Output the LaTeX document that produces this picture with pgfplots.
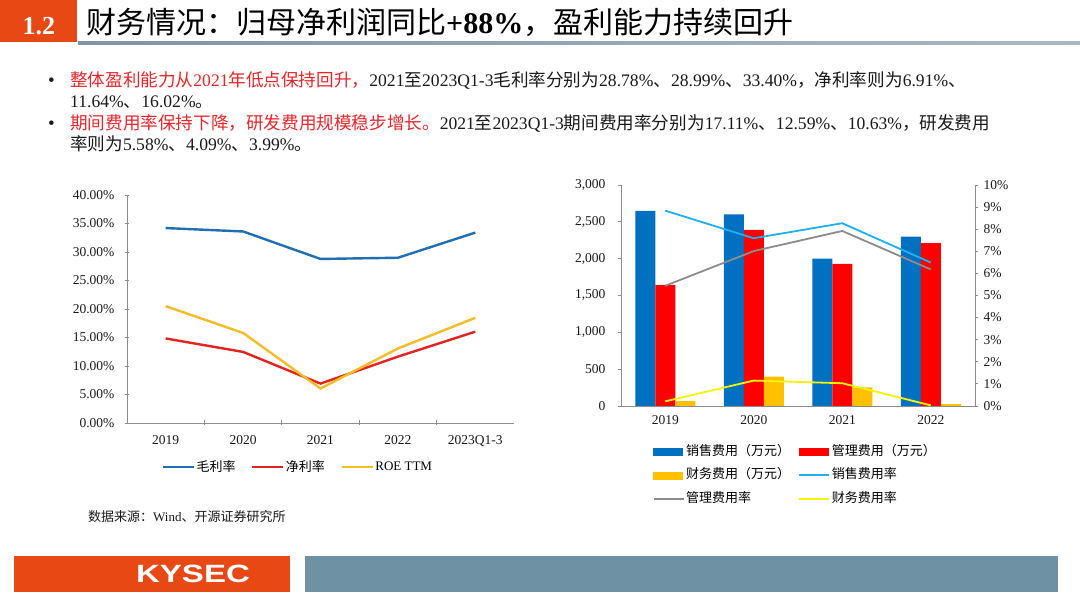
\documentclass[border=0pt]{standalone}
\usepackage{fontspec}
\setmainfont{Liberation Serif}
\newfontfamily\cjk{Noto Sans CJK SC}
\newfontfamily\sanslogo{Liberation Sans}
\usepackage{graphicx}
\usepackage{pgfplots}
\pgfplotsset{compat=1.18}
\definecolor{kyorange}{HTML}{E84814}
\definecolor{kygray}{HTML}{6E92A4}
\definecolor{lineA}{HTML}{7D95A6}
\definecolor{lineB}{HTML}{A9B9C4}
\definecolor{myred}{HTML}{E8262A}
\definecolor{txt}{HTML}{1A1A1A}
\definecolor{axisgray}{HTML}{8C8C8C}
\definecolor{lblue}{HTML}{1F6FB2}
\definecolor{lred}{HTML}{E3231F}
\definecolor{lyellow}{HTML}{F4BC25}
\definecolor{bblue}{HTML}{0070C0}
\definecolor{bred}{HTML}{FF0000}
\definecolor{byellow}{HTML}{FFC000}
\definecolor{lcyan}{HTML}{1EB0EC}
\definecolor{lgray}{HTML}{8C8C8C}
\definecolor{lyel}{HTML}{F5F500}
\newcommand{\C}[1]{{\cjk #1}}
\begin{document}
\begin{tikzpicture}
\path[use as bounding box, fill=white] (0pt,0pt) rectangle (1080pt,607pt);
% header
\fill[kyorange] (0pt,565pt) rectangle (77pt,607pt);
\node[anchor=base, text=white, font=\fontsize{26pt}{28pt}\selectfont\bfseries] at (39pt,572pt) {1.2};
\shade[left color=lineA, right color=lineB] (78pt,562.5pt) rectangle (1080pt,565.5pt);
\node[anchor=base west, inner sep=0pt, text=black, font=\fontsize{30pt}{32pt}\selectfont] at (86pt,573pt)
  {\C{财务情况：归母净利润同比}\textbf{+88\%}\C{，盈利能力持续回升}};
% bullets
\begin{scope}[every node/.style={anchor=base west, inner sep=0pt, text=txt, font=\fontsize{17.6pt}{20pt}\selectfont}]
\node at (48pt,520.5pt) {\fontsize{19pt}{20pt}\selectfont •};
\node at (70pt,520.5pt) {\textcolor{myred}{\C{整体盈利能力从}2021\C{年低点保持回升，}}2021\C{至}2023Q1-3\C{毛利率分别为}28.78\%\C{、}28.99\%\C{、}33.40\%\C{，净利率则为}6.91\%\C{、}};
\node at (70pt,499.5pt) {11.64\%\C{、}16.02\%\C{。}};
\node at (48pt,477.5pt) {\fontsize{19pt}{20pt}\selectfont •};
\node at (70pt,477.5pt) {\textcolor{myred}{\C{期间费用率保持下降，研发费用规模稳步增长。}}2021\C{至}2023Q1-3\C{期间费用率分别为}17.11\%\C{、}12.59\%\C{、}10.63\%\C{，研发费用}};
\node at (70pt,456.5pt) {\C{率则为}5.58\%\C{、}4.09\%\C{、}3.99\%\C{。}};
\node[font=\fontsize{13pt}{15pt}\selectfont] at (88pt,85pt) {\C{数据来源：}Wind\C{、开源证券研究所}};
\end{scope}
% footer
\fill[kyorange] (14pt,15pt) rectangle (290pt,51pt);
\fill[kygray] (305pt,15pt) rectangle (1058pt,51pt);
\node[text=white, font=\sanslogo\bfseries\fontsize{25pt}{27pt}\selectfont] at (193pt,33pt) {\scalebox{1.32}[1]{KYSEC}};
% left chart
\begin{axis}[at={(127pt,184pt)}, anchor=south west, scale only axis,
  width=387pt, height=228pt,
  xmin=-0.5, xmax=4.5, ymin=0, ymax=40,
  axis x line=bottom, axis y line=left,
  axis line style={-, draw=axisgray, line width=0.8pt},
  /pgf/number format/assume math mode=true,
  tick label style={font=\fontsize{13.5pt}{15pt}\selectfont, text=txt},
  xtick={0,...,4}, xticklabels={2019,2020,2021,2022,2023Q1-3},
  major x tick style={draw=none},
  minor xtick={0.5,1.5,2.5,3.5}, minor x tick style={draw=axisgray, line width=0.8pt},
  minor tick length=5pt, major tick length=4pt,
  ytick={0,5,...,40}, y tick style={draw=axisgray, line width=0.8pt},
  yticklabel={\pgfmathprintnumber[fixed,fixed zerofill,precision=2]{\tick}\%},
  yticklabel style={xshift=-7pt},
  xticklabel style={yshift=-7pt},
  legend columns=3,
  legend style={draw=none, fill=none, at={(0.089,-0.193)}, anchor=west, inner sep=0pt,
    font=\fontsize{13pt}{15pt}\selectfont, nodes={inner sep=1.5pt},
    /tikz/every even column/.append style={column sep=14pt}},
  legend image code/.code={\draw[#1] (0pt,0pt) -- (31pt,0pt);},
]
\addplot[color=lblue, line width=2.4pt] coordinates {(0,34.2)(1,33.6)(2,28.78)(3,28.99)(4,33.40)};
\addlegendentry{\C{毛利率}}
\addplot[color=lred, line width=2.4pt] coordinates {(0,14.83)(1,12.47)(2,6.91)(3,11.64)(4,16.02)};
\addlegendentry{\C{净利率}}
\addplot[color=lyellow, line width=2.4pt] coordinates {(0,20.5)(1,15.8)(2,6.05)(3,13.07)(4,18.45)};
\addlegendentry{ROE TTM}
\end{axis}
% right chart: bars
\begin{axis}[at={(621pt,201pt)}, anchor=south west, scale only axis,
  width=354pt, height=221pt,
  xmin=-0.5, xmax=3.5, ymin=0, ymax=3000,
  axis x line*=bottom, axis y line*=left,
  axis line style={-, draw=axisgray, line width=0.8pt},
  ybar=0pt, bar width=20pt,
  /pgf/number format/assume math mode=true,
  /pgf/number format/1000 sep={,},
  tick label style={font=\fontsize{13.5pt}{15pt}\selectfont, text=txt},
  xtick={0,...,3}, xticklabels={2019,2020,2021,2022},
  major x tick style={draw=none},
  xticklabel style={yshift=-3pt},
  ytick={0,500,...,3000}, tick align=outside, major tick length=3pt,
  y tick style={draw=axisgray, line width=0.8pt},
  yticklabel style={xshift=-9pt},
]
\addplot[fill=bblue, draw=none] coordinates {(0,2650)(1,2600)(2,2000)(3,2300)};
\addplot[fill=bred, draw=none] coordinates {(0,1645)(1,2390)(2,1930)(3,2210)};
\addplot[fill=byellow, draw=none] coordinates {(0,65)(1,400)(2,252)(3,25)};
\end{axis}
% right chart: lines
\begin{axis}[at={(621pt,201pt)}, anchor=south west, scale only axis,
  width=354pt, height=221pt,
  xmin=-0.5, xmax=3.5, ymin=0, ymax=10,
  axis x line=none, axis y line*=right,
  axis line style={-, draw=axisgray, line width=0.8pt},
  /pgf/number format/assume math mode=true,
  tick label style={font=\fontsize{13.5pt}{15pt}\selectfont, text=txt},
  xtick=\empty,
  ytick={0,...,10}, tick align=outside, major tick length=3pt,
  y tick style={draw=axisgray, line width=0.8pt},
  yticklabel={\pgfmathprintnumber{\tick}\%},
  yticklabel style={xshift=2pt},
  legend columns=2,
  legend style={draw=none, fill=none, at={(0.089,-0.17)}, anchor=north west, inner sep=0pt,
    font=\fontsize{13pt}{15pt}\selectfont,
    nodes={inner sep=1.5pt, text height=10pt, text depth=3pt},
    row sep=7.5pt,
    /tikz/every even column/.append style={column sep=7pt}},
  legend cell align=left,
  legend image code/.code={\draw[#1] (0pt,0pt) -- (30pt,0pt);},
]
\addlegendimage{legend image code/.code={\fill[bblue] (0pt,-3.5pt) rectangle (29pt,3.5pt);}}
\addlegendentry{\C{销售费用（万元）}}
\addlegendimage{legend image code/.code={\fill[bred] (0pt,-3.5pt) rectangle (29pt,3.5pt);}}
\addlegendentry{\C{管理费用（万元）}}
\addlegendimage{legend image code/.code={\fill[byellow] (0pt,-3.5pt) rectangle (29pt,3.5pt);}}
\addlegendentry{\C{财务费用（万元）}}
\addplot[color=lcyan, line width=1.8pt] coordinates {(0,8.84)(1,7.59)(2,8.27)(3,6.49)};
\addlegendentry{\C{销售费用率}}
\addplot[color=lgray, line width=1.8pt] coordinates {(0,5.44)(1,7.01)(2,7.92)(3,6.18)};
\addlegendentry{\C{管理费用率}}
\addplot[color=lyel, line width=1.8pt] coordinates {(0,0.21)(1,1.15)(2,1.03)(3,0.03)};
\addlegendentry{\C{财务费用率}}
\end{axis}
\end{tikzpicture}
\end{document}
